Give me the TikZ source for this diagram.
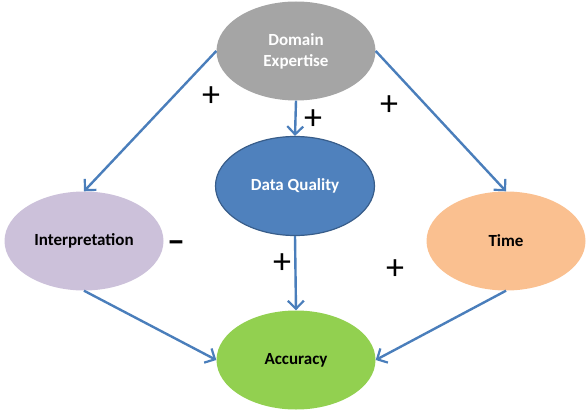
\documentclass[tikz,border=0pt]{standalone}
\usepackage{fontspec}
\setmainfont{Carlito}
\usepackage{xcolor}
\usetikzlibrary{arrows.meta,positioning,calc,shapes.geometric}

\definecolor{expgray}{HTML}{A5A5A5}
\definecolor{qualblue}{HTML}{4F81BD}
\definecolor{qualedge}{HTML}{385D8A}
\definecolor{intlav}{HTML}{CCC1DA}
\definecolor{timepeach}{HTML}{FAC090}
\definecolor{accgreen}{HTML}{92D050}
\definecolor{linkblue}{HTML}{4A7EBB}

\begin{document}
\begin{tikzpicture}[
  x=1pt, y=-1pt,
  fnode/.style={ellipse, minimum width=159pt, minimum height=99pt, inner sep=0pt,
    font=\fontsize{17}{21}\selectfont\bfseries, align=center},
  link/.style={-{Straight Barb[length=8pt,width=16pt,line width=2.2pt]}, line width=2.4pt, linkblue},
  sgn/.style={font=\fontsize{36}{36}\selectfont, inner sep=0pt},
]
  \useasboundingbox (0,0) rectangle (588,414);

  \node[fnode, fill=expgray, text=white] (expert) at (296,51) {Domain\\Expertise};
  \node[fnode, fill=qualblue, draw=qualedge, line width=1.2pt, text=white] (quality) at (295,186) {Data Quality};
  \node[fnode, fill=intlav] (interp) at (84,241) {Interpretation};
  \node[fnode, fill=timepeach] (time) at (506,241) {Time};
  \node[fnode, fill=accgreen] (acc) at (296,360) {Accuracy};

  % Expertise feeds the three middle factors
  \draw[link] (expert.west) -- (interp.north);
  \draw[link] (expert.south) -- (quality.north);
  \draw[link] (expert.east) -- (time.north);

  % Factors feed accuracy
  \draw[link] (interp.south) -- (acc.west);
  \draw[link] (quality.south) -- (acc.north);
  \draw[link] (time.south) -- (acc.east);

  % Signs of the influences
  \node[sgn] (s1) at (211,97) {+};
  \node[sgn] (s2) at (313,120) {+};
  \node[sgn] (s3) at (389,106) {+};
  \node[sgn, font=\fontsize{36}{36}\selectfont\bfseries] (s4) at (176,247) {--};
  \node[sgn] (s5) at (282,264) {+};
  \node[sgn] (s6) at (395,270) {+};
\end{tikzpicture}
\end{document}
